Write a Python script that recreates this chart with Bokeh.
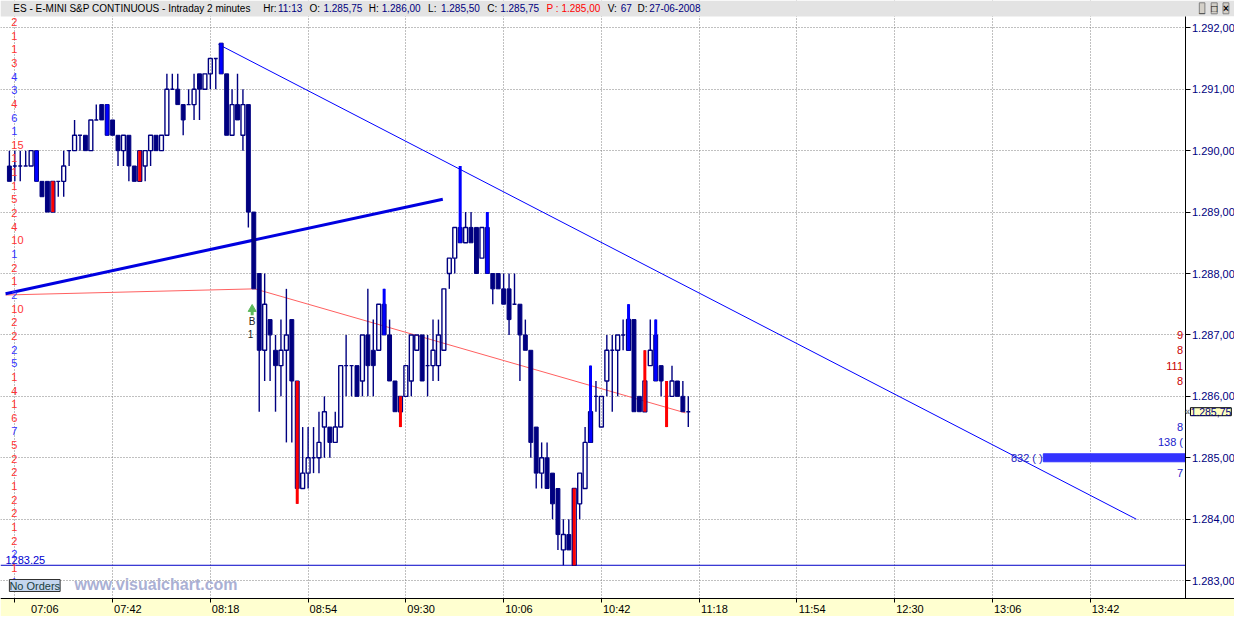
import numpy as np
from bokeh.plotting import figure
from bokeh.models import Range1d, FixedTicker, Label, ColumnDataSource, BoxAnnotation
from bokeh.core.properties import value
from bokeh.embed import file_html
from bokeh.resources import INLINE

# ------------------------------------------------------------------ data
# 2-minute bars, bar 0 = 07:04
opens = [1289.75, 1289.75, 1289.75, 1289.75, 1289.75, 1290.0, 1289.5, 1289.5, 1289.0, 1289.5,
         1289.5, 1290.0, 1290.0, 1290.25, 1290.25, 1290.0, 1290.5, 1290.75, 1290.75, 1290.5,
         1290.25, 1290.0, 1290.25, 1289.75, 1289.5, 1289.75, 1290.0, 1290.25, 1290.0, 1290.25,
         1291.0, 1291.0, 1290.75, 1290.75, 1290.75, 1291.25, 1291.0, 1291.25, 1291.5, 1291.75,
         1291.25, 1290.25, 1290.75, 1290.25, 1290.75, 1289.0, 1288.0, 1286.75, 1287.25, 1286.75,
         1286.5, 1286.75, 1287.25, 1286.25, 1284.5, 1284.75, 1285.0, 1285.0, 1285.5, 1285.5,
         1285.25, 1285.5, 1286.5, 1286.5, 1286.5, 1286.25, 1287.0, 1286.75, 1286.75, 1287.5,
         1287.0, 1286.25, 1285.75, 1286.0, 1286.25, 1286.75, 1287.0, 1286.5, 1286.5, 1286.5,
         1286.75, 1288.0, 1288.25, 1288.75, 1288.5, 1288.75, 1288.75, 1288.25, 1288.75, 1288.0,
         1288.0, 1287.75, 1287.75, 1287.5, 1287.5, 1287.0, 1286.75, 1285.5, 1284.75, 1285.0,
         1284.75, 1284.5, 1283.5, 1283.75, 1283.25, 1284.25, 1284.5, 1285.25, 1286.0, 1285.5,
         1286.25, 1286.75, 1286.75, 1287.0, 1286.75, 1287.25, 1286.0, 1285.75, 1286.5, 1287.0,
         1286.5, 1286.0, 1286.0, 1286.25, 1286.0, 1285.75]
highs = [1290.0, 1290.0, 1290.0, 1290.0, 1290.0, 1290.0, 1289.5, 1289.5, 1289.5, 1289.5,
         1290.0, 1290.0, 1290.5, 1290.25, 1290.25, 1290.5, 1290.75, 1290.75, 1290.75, 1290.5,
         1290.25, 1290.25, 1290.25, 1289.75, 1290.0, 1290.0, 1290.25, 1290.25, 1290.25, 1291.25,
         1291.25, 1291.25, 1290.75, 1291.0, 1291.25, 1291.25, 1291.25, 1291.5, 1291.5, 1291.75,
         1291.25, 1291.0, 1291.25, 1291.0, 1290.75, 1289.0, 1288.0, 1288.0, 1287.25, 1287.0,
         1287.25, 1287.75, 1287.25, 1286.25, 1285.5, 1285.5, 1285.5, 1285.75, 1286.0, 1285.5,
         1285.75, 1286.5, 1287.0, 1286.5, 1286.5, 1287.0, 1287.75, 1287.25, 1287.5, 1287.75,
         1287.25, 1286.25, 1286.0, 1286.5, 1287.0, 1287.0, 1287.0, 1287.0, 1287.25, 1287.25,
         1287.75, 1288.25, 1288.75, 1289.75, 1289.0, 1289.0, 1288.75, 1288.75, 1289.0, 1288.0,
         1288.0, 1288.0, 1288.0, 1288.0, 1287.5, 1287.25, 1286.75, 1285.5, 1285.25, 1285.25,
         1284.75, 1284.5, 1284.0, 1284.0, 1284.5, 1284.75, 1285.5, 1286.5, 1286.25, 1286.0,
         1287.0, 1287.0, 1287.0, 1287.25, 1287.5, 1287.25, 1286.0, 1286.75, 1287.25, 1287.25,
         1286.5, 1286.25, 1286.5, 1286.25, 1286.25, 1286.0]
lows = [1289.5, 1289.5, 1289.5, 1289.75, 1289.75, 1289.5, 1289.25, 1289.0, 1289.0, 1289.25,
        1289.25, 1289.75, 1290.0, 1290.0, 1290.0, 1290.0, 1290.5, 1290.5, 1290.25, 1290.25,
        1289.75, 1289.75, 1289.5, 1289.5, 1289.5, 1289.5, 1289.75, 1290.0, 1290.0, 1290.25,
        1291.0, 1290.75, 1290.25, 1290.75, 1290.5, 1290.5, 1291.0, 1291.0, 1291.0, 1291.25,
        1290.25, 1290.25, 1290.5, 1290.0, 1288.75, 1287.75, 1285.75, 1286.25, 1286.25, 1285.75,
        1286.0, 1285.25, 1285.25, 1284.25, 1284.5, 1284.5, 1284.75, 1284.75, 1285.0, 1285.0,
        1285.25, 1285.5, 1286.0, 1286.0, 1286.0, 1286.0, 1286.0, 1286.0, 1286.75, 1287.0,
        1286.25, 1285.75, 1285.5, 1286.0, 1286.0, 1286.75, 1286.25, 1286.0, 1286.25, 1286.25,
        1286.75, 1287.75, 1288.0, 1288.5, 1288.5, 1288.5, 1288.0, 1288.25, 1288.0, 1287.5,
        1287.75, 1287.5, 1287.0, 1287.5, 1286.25, 1286.75, 1285.0, 1284.5, 1284.5, 1284.5,
        1284.0, 1283.5, 1283.25, 1283.5, 1283.25, 1284.0, 1284.5, 1285.25, 1285.75, 1285.5,
        1286.0, 1285.75, 1286.0, 1286.75, 1286.75, 1285.75, 1285.75, 1285.75, 1286.5, 1286.25,
        1286.0, 1285.5, 1286.0, 1286.0, 1285.75, 1285.5]
closes = [1289.5, 1289.75, 1289.75, 1289.75, 1290.0, 1289.5, 1289.25, 1289.0, 1289.5, 1289.5,
          1289.75, 1290.0, 1290.25, 1290.25, 1290.0, 1290.5, 1290.5, 1290.5, 1290.25, 1290.25,
          1290.0, 1290.25, 1289.75, 1289.5, 1290.0, 1290.0, 1290.25, 1290.0, 1290.25, 1291.0,
          1291.0, 1290.75, 1290.5, 1290.75, 1291.0, 1291.0, 1291.25, 1291.5, 1291.5, 1291.25,
          1290.25, 1290.75, 1290.5, 1290.75, 1289.0, 1287.75, 1286.75, 1287.5, 1287.0, 1286.5,
          1286.75, 1287.0, 1286.25, 1284.5, 1284.75, 1285.0, 1285.0, 1285.25, 1285.75, 1285.25,
          1285.5, 1286.5, 1286.5, 1286.5, 1286.0, 1287.0, 1286.5, 1286.5, 1287.5, 1287.0,
          1286.25, 1285.75, 1286.0, 1286.5, 1287.0, 1287.0, 1286.25, 1286.5, 1286.75, 1287.0,
          1287.75, 1288.25, 1288.75, 1288.5, 1288.75, 1288.5, 1288.0, 1288.75, 1288.0, 1287.75,
          1287.75, 1287.5, 1287.25, 1287.5, 1287.0, 1286.75, 1285.25, 1284.75, 1285.0, 1284.5,
          1284.25, 1283.75, 1283.75, 1283.5, 1284.5, 1284.75, 1285.25, 1285.75, 1286.0, 1286.0,
          1286.75, 1286.75, 1287.0, 1287.0, 1287.25, 1285.75, 1285.75, 1286.25, 1286.75, 1286.25,
          1286.25, 1286.0, 1286.25, 1286.0, 1285.75, 1285.75]
red_bars = [8, 24, 53, 72, 104, 117, 121]
blue_bars = [5, 18, 39, 69, 83, 88, 107, 114, 119]

time_ticks = [1, 19, 37, 55, 73, 91, 109, 127, 145, 163, 181, 199]
time_labels = ["07:06", "07:42", "08:18", "08:54", "09:30", "10:06",
               "10:42", "11:18", "11:54", "12:30", "13:06", "13:42"]
price_ticks = [1283, 1284, 1285, 1286, 1287, 1288, 1289, 1290, 1291, 1292]
price_labels = ["1.283,00", "1.284,00", "1.285,00", "1.286,00", "1.287,00",
                "1.288,00", "1.289,00", "1.290,00", "1.291,00", "1.292,00"]

# volume-at-price column on the left (top to bottom), R = red, B = blue
left_counts = ["2", "1", "1", "3", "4", "3", "4", "6", "1", "15", "1", "1", "1", "5",
               "2", "4", "10", "1", "2", "1", "2", "10", "2", "2", "2", "5", "1", "4",
               "1", "6", "7", "5", "2", "2", "1", "2", "2", "1", "2", "2", "1", "1"]
left_sides = "RRRRBBRBBRRRRRRRRBRRBRRRBBRRRRBRRRRRRRRBRB"

# trend lines (bar index, price)
trend_down_x = [38.5, 207.5]
trend_down_y = [1291.73, 1284.0]
trend_up_x = [-0.7, 79.8]
trend_up_y = [1287.67, 1289.21]
red_line_x = [-0.7, 45.2, 124.5]
red_line_y = [1287.65, 1287.75, 1285.73]
support_level = 1283.25
support_label = "1283.25"

# order book on the right
book_prices = [1287.0, 1286.75, 1286.5, 1286.25, 1285.5, 1285.25, 1284.75]
book_texts = ["9", "8", "111", "8", "8", "138 (", "7"]
book_sides = ["ask", "ask", "ask", "ask", "bid", "bid", "bid"]
order_price = 1285.0
order_text = "832 ( )"
last_price = 1285.75
last_price_text = "1.285,75"

# buy signal
buy_bar = 44.7
buy_price = 1287.42

title_parts = [
    (13, "ES - E-MINI S&P CONTINUOUS - Intraday 2 minutes", "black"),
    (266, "Hr:", "black"), (281, "11:13", "#000080"),
    (313, "O:", "black"), (327, "1.285,75", "#000080"),
    (373, "H:", "black"), (386, "1.286,00", "#000080"),
    (433, "L:", "black"), (446, "1.285,50", "#000080"),
    (493, "C:", "black"), (506, "1.285,75", "#000080"),
    (553, "P : 1.285,00", "#ff0000"),
    (615, "V:", "black"), (628, "67", "#000080"),
    (645, "D:", "black"), (657, "27-06-2008", "#000080"),
]

# ------------------------------------------------------------------ layout
FONT = "Liberation Sans"
NAVY = "#000080"
FIG_W, FIG_H = 1234, 616
SX, SY = 0.9875, 0.975


def bar_of(X):      # reference pixel column -> bar index
    return (X - 9.0) / 5.5


def price_of(Y):    # reference pixel row -> price
    return 1286.0 - (Y - 406.0) / 63.0


X0, X1 = bar_of(0), bar_of(FIG_W / SX)
Y0, Y1 = price_of(FIG_H / SY), price_of(0)
AXIS_X = bar_of(1199.5)
AXIS_Y = price_of(613)
PLOT_TOP = price_of(16.5)
BODY_W = 0.72
ORDER_BAR_LEFT = bar_of(1056)


def sx(X):
    return SX * X


def sy(Y):
    return FIG_H - SY * Y


p = figure(width=FIG_W, height=FIG_H, output_backend="svg", toolbar_location=None, tools="",
           x_range=Range1d(X0, X1), y_range=Range1d(Y0, Y1),
           y_axis_location="right", x_axis_location="below",
           min_border=0, min_border_left=0, min_border_right=0,
           min_border_top=0, min_border_bottom=0)
p.border_fill_color = "white"
p.background_fill_color = "white"
p.outline_line_color = None

xa = p.xaxis[0]
xa.fixed_location = AXIS_Y
xa.bounds = (X0, X1)
xa.ticker = FixedTicker(ticks=time_ticks)
NB = "\u00a0" * 10
xa.major_label_overrides = {t: NB + lab for t, lab in zip(time_ticks, time_labels)}
xa.major_label_text_font = FONT
xa.major_label_text_font_size = "11px"
xa.major_label_text_color = "black"
xa.major_label_standoff = 1
xa.major_tick_out = 4
xa.major_tick_in = 0
xa.minor_tick_line_color = None
xa.axis_line_color = "black"
xa.major_tick_line_color = "black"

ya = p.yaxis[0]
ya.fixed_location = AXIS_X
ya.bounds = (AXIS_Y, PLOT_TOP)
ya.ticker = FixedTicker(ticks=price_ticks)
ya.major_label_overrides = {t: lab for t, lab in zip(price_ticks, price_labels)}
ya.major_label_text_font = FONT
ya.major_label_text_font_size = "11px"
ya.major_label_text_color = NAVY
ya.major_label_standoff = 2
ya.major_tick_out = 5
ya.major_tick_in = 0
ya.minor_tick_line_color = None
ya.axis_line_color = "black"
ya.major_tick_line_color = "black"

for g in (p.xgrid[0], p.ygrid[0]):
    g.grid_line_color = "#808080"
    g.grid_line_dash = "1 2"
    g.grid_line_width = 1

# panels covering grid outside the plot area
p.add_layout(BoxAnnotation(bottom=PLOT_TOP, fill_color="#e3e3e3", fill_alpha=1,
                           line_color=None, level="underlay"))
p.add_layout(BoxAnnotation(top=AXIS_Y, fill_color="#ffffd0", fill_alpha=1,
                           line_color=None, level="underlay"))
p.add_layout(BoxAnnotation(left=AXIS_X, bottom=AXIS_Y, top=PLOT_TOP, fill_color="white",
                           fill_alpha=1, line_color=None, level="underlay"))

# support line
p.line([X0, AXIS_X], [support_level, support_level], color="#0000c8", line_width=1)
p.text(x=[bar_of(5)], y=[support_level], text=[support_label], text_color="#0000d0",
       text_font=value(FONT), text_font_size="11px", text_baseline="bottom",
       text_align="left", y_offset=-1)

# trend lines
p.line(red_line_x, red_line_y, color="#ff6060", line_width=1)
p.line(trend_up_x, trend_up_y, color="#0000e0", line_width=3)
p.line(trend_down_x, trend_down_y, color="#0000ff", line_width=1)

# candles
o = np.array(opens); h = np.array(highs); l = np.array(lows); c = np.array(closes)
idx = np.arange(len(o))
top = np.maximum(o, c)
bot = np.minimum(o, c)
down = c < o
src = ColumnDataSource(dict(x=idx, o=o, h=h, l=l, c=c, top=top, bot=bot))
p.segment(x0="x", y0="top", x1="x", y1="h", source=src, color=NAVY, line_width=1.4)
p.segment(x0="x", y0="l", x1="x", y1="bot", source=src, color=NAVY, line_width=1.4)
p.vbar(x=idx[down], width=BODY_W, top=top[down], bottom=bot[down],
       fill_color=NAVY, line_color=NAVY, line_width=1)
p.vbar(x=idx[~down], width=BODY_W, top=top[~down], bottom=bot[~down],
       fill_alpha=0, line_color=NAVY, line_width=1.4)

rb = np.array(red_bars); bb = np.array(blue_bars)
p.segment(rb, l[rb], rb, h[rb], color="#ff0000", line_width=3)
p.segment(bb, l[bb], bb, h[bb], color="#0000ff", line_width=3)

# buy signal
p.segment([buy_bar], [buy_price - 0.1], [buy_bar], [buy_price - 0.02], color="#5cb85c", line_width=3)
p.scatter([buy_bar], [buy_price], marker="triangle", size=8, color="#5cb85c")
p.text(x=[buy_bar, buy_bar - 0.3], y=[buy_price - 0.2, buy_price - 0.4], text=["B", "1"],
       text_color="#202020", text_font=value(FONT), text_font_size="10px",
       text_align="center", text_baseline="middle")

# left volume column
n_left = len(left_counts)
left_y = [price_of(22 + 14 * k) for k in range(n_left)]
left_col = ["#ff3333" if s == "R" else "#3333ff" for s in left_sides]
p.text(x=[bar_of(11)] * n_left, y=left_y, text=left_counts, text_color=left_col,
       text_font=value(FONT), text_font_size="11px", text_align="left", text_baseline="middle")

# order book
book_col = ["#c80000" if s == "ask" else "#1a1acc" for s in book_sides]
p.text(x=[AXIS_X] * len(book_texts), y=book_prices, text=book_texts, text_color=book_col,
       text_font=value(FONT), text_font_size="11px", text_align="right",
       text_baseline="middle", x_offset=-2)
p.hbar(y=[order_price], height=0.13, left=[ORDER_BAR_LEFT], right=[AXIS_X],
       color="#3333ff")
p.text(x=[ORDER_BAR_LEFT - 0.1], y=[order_price], text=[order_text], text_color="#2020c0",
       text_font=value(FONT), text_font_size="11px", text_align="right", text_baseline="middle")

# title bar
for X, txt, col in title_parts:
    p.add_layout(Label(x=sx(X), y=sy(8), x_units="screen", y_units="screen", text=txt,
                       text_color=col, text_font=FONT, text_font_size="10px",
                       text_baseline="middle"))
for X, txt in [(1214, "_"), (1226, "\u25a1"), (1238, "\u00d7")]:
    p.add_layout(Label(x=sx(X), y=sy(8), x_units="screen", y_units="screen", text=txt,
                       text_color="black", text_font=FONT, text_font_size="10px",
                       text_baseline="middle", text_font_style="bold",
                       background_fill_color="#d4d0c8", border_line_color="#808080"))

# last price marker
p.add_layout(Label(x=sx(1199), y=last_price, x_units="screen", y_units="data", text="\u00ab",
                   text_color="#404040", text_font=FONT, text_font_size="10px",
                   text_baseline="middle"))
p.add_layout(Label(x=sx(1205), y=last_price, x_units="screen", y_units="data",
                   text=last_price_text, text_color=NAVY, text_font=FONT,
                   text_font_size="10.5px", text_baseline="middle",
                   background_fill_color="#ffffc0", border_line_color="black"))

# no orders box and watermark
p.add_layout(Label(x=sx(75), y=sy(599), x_units="screen", y_units="screen",
                   text="www.visualchart.com", text_color="#aab0d4", text_font=FONT,
                   text_font_size="16px", text_font_style="bold", text_baseline="middle"))
p.add_layout(Label(x=sx(9), y=sy(600), x_units="screen", y_units="screen",
                   text="No Orders", text_color="#1a4040", text_font=FONT,
                   text_font_size="11px", text_baseline="middle",
                   background_fill_color="#c4d6ee", border_line_color="#303030"))

open("out.html", "w").write(file_html(p, INLINE))
